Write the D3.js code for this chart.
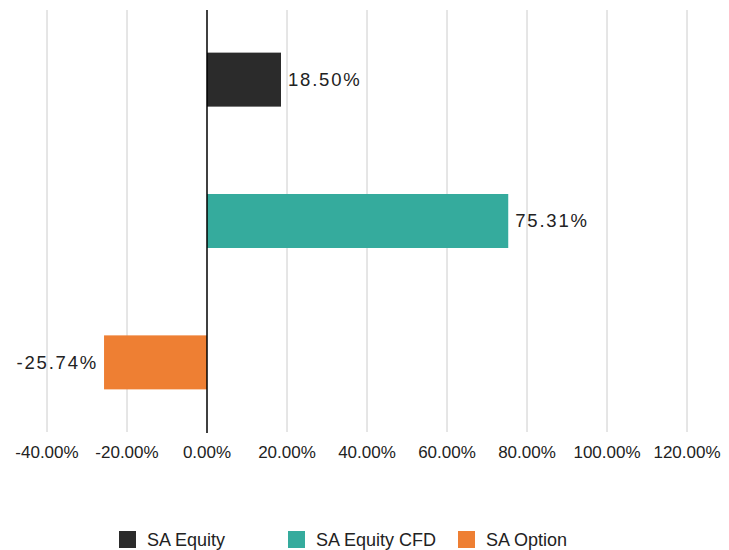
<!DOCTYPE html>
<html>
<head>
<meta charset="utf-8">
<script src="https://cdn.jsdelivr.net/npm/d3@7"></script>
<style>
  body { margin: 0; background: #fff; }
  svg { font-family: "Liberation Sans", Arial, sans-serif; }
</style>
</head>
<body>
<div id="chart"></div>
<script>
// Data
const categories = ["SA Equity", "SA Equity CFD", "SA Option"];
const values = [18.5, 75.31, -25.74];
const tickValues = [-40, -20, 0, 20, 40, 60, 80, 100, 120];

// Color Scheme
const colorScheme = ["#2b2b2b", "#35ab9d", "#ee7f33"];

// plain hyphen for negatives, like the original
const pct = (d) => d3.format(".2f")(d).replace("\u2212", "-") + "%";

const WIDTH = 729;
const HEIGHT = 550;

const svg = d3
  .select("#chart")
  .append("svg")
  .attr("width", WIDTH)
  .attr("height", HEIGHT);

// Scales
const xScale = d3.scaleLinear().domain([-40, 120]).range([47, 687]);

const yScale = d3
  .scaleBand()
  .domain(categories)
  .range([10, 432])
  .paddingInner(0.615)
  .paddingOuter(0.3);

// Gridlines
svg
  .append("g")
  .selectAll("line")
  .data(tickValues.filter((d) => d !== 0))
  .enter()
  .append("line")
  .attr("x1", (d) => xScale(d))
  .attr("x2", (d) => xScale(d))
  .attr("y1", 10)
  .attr("y2", 432)
  .attr("stroke", "#cccccc")
  .attr("stroke-width", 1);

// Tick labels
svg
  .append("g")
  .selectAll("text")
  .data(tickValues)
  .enter()
  .append("text")
  .attr("x", (d) => xScale(d))
  .attr("y", 458)
  .attr("text-anchor", "middle")
  .attr("font-size", "17px")
  .attr("fill", "#222")
  .text(pct);

// Bars
const bandCenter = (c) => yScale(c) + yScale.bandwidth() / 2;
const BAR_H = 54;

svg
  .selectAll("rect.bar")
  .data(values)
  .enter()
  .append("rect")
  .attr("class", "bar")
  .attr("x", (d) => xScale(Math.min(0, d)))
  .attr("y", (d, i) => bandCenter(categories[i]) - BAR_H / 2)
  .attr("width", (d) => Math.abs(xScale(d) - xScale(0)))
  .attr("height", BAR_H)
  .attr("fill", (d, i) => colorScheme[i]);

// Zero line
svg
  .append("line")
  .attr("x1", xScale(0))
  .attr("x2", xScale(0))
  .attr("y1", 10)
  .attr("y2", 433)
  .attr("stroke", "#000")
  .attr("stroke-width", 1.5);

// Value labels
svg
  .selectAll("text.label")
  .data(values)
  .enter()
  .append("text")
  .attr("class", "label")
  .attr("x", (d) => (d >= 0 ? xScale(d) + 7 : xScale(d) - 6))
  .attr("y", (d, i) => bandCenter(categories[i]))
  .attr("dy", ".35em")
  .attr("text-anchor", (d) => (d >= 0 ? "start" : "end"))
  .attr("font-size", "18.5px")
  .attr("letter-spacing", "1.8px")
  .attr("fill", "#222")
  .text(pct);

// Legend
const legendX = [119, 288, 458];
const legend = svg
  .selectAll("g.legend")
  .data(categories)
  .enter()
  .append("g")
  .attr("class", "legend")
  .attr("transform", (d, i) => `translate(${legendX[i]}, 531)`);

legend
  .append("rect")
  .attr("width", 17)
  .attr("height", 17)
  .attr("fill", (d, i) => colorScheme[i]);

legend
  .append("text")
  .attr("x", 28)
  .attr("y", 8.5)
  .attr("dy", ".35em")
  .attr("font-size", "18px")
  .attr("fill", "#222")
  .text((d) => d);
</script>
</body>
</html>
